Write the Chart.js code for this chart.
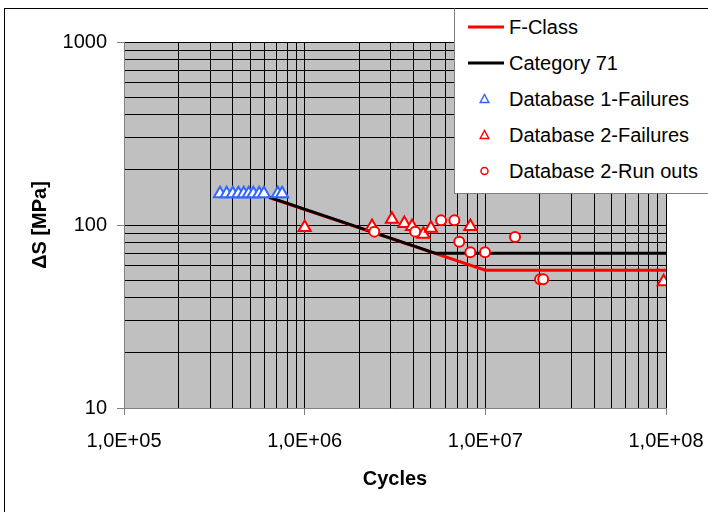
<!DOCTYPE html>
<html>
<head>
<meta charset="utf-8">
<title>S-N curve</title>
<script src="https://cdn.jsdelivr.net/npm/chart.js@4.4.1/dist/chart.umd.min.js"></script>
<style>
    body { margin: 0; background: #fff; overflow: hidden; }
    #wrap { position: relative; width: 708px; height: 512px; }
    #legend {
        position: absolute; left: 454px; top: 8px; width: 270px; height: 184px;
        background: #fff; border: 1px solid #808080; border-top-color: #000;
        font-family: 'Liberation Sans', Arial, sans-serif; font-size: 20px; color: #000;
    }
    .legend-item { height: 36px; display: flex; align-items: center; white-space: nowrap; }
    .legend-item svg { flex: none; }
</style>
</head>
<body>
<div id="wrap">
    <canvas id="snChart" width="708" height="512"></canvas>
    <div id="legend"></div>
</div>
<script>
// Axis decades and tick labels
const xDecades = [1e5, 1e6, 1e7, 1e8];
const xTickLabels = ['1,0E+05', '1,0E+06', '1,0E+07', '1,0E+08'];
const yDecades = [10, 100, 1000];
const yTickLabels = ['10', '100', '1000'];

// Design curves
const fClassCycles = [6.35e5, 1.0e7, 1.0e8];
const fClassStress = [141, 56.6, 56.6];
const cat71Cycles = [6.35e5, 5.3e6, 1.0e8];
const cat71Stress = [142, 70, 70];

// Test data
const db1Cycles = [3.40e5, 3.70e5, 4.00e5, 4.30e5, 4.60e5, 4.90e5, 5.20e5, 5.60e5, 5.95e5, 7.10e5, 7.50e5];
const db1Stress = [148, 148, 148, 148, 148, 148, 148, 148, 148, 148, 148];
const db2FailCycles = [1.0e6, 2.36e6, 3.04e6, 3.56e6, 3.93e6, 4.54e6, 5.0e6, 8.26e6, 9.7e7];
const db2FailStress = [97, 98, 107.5, 102, 98, 89, 96, 98, 49];
const db2RunCycles = [2.43e6, 4.09e6, 5.69e6, 6.74e6, 7.17e6, 8.26e6, 9.96e6, 1.46e7, 2.01e7, 2.09e7];
const db2RunStress = [92, 92, 106, 106, 81, 71, 71, 86, 50.5, 50.5];

function toPoints(xs, ys) {
    return xs.map((x, i) => ({ x: x, y: ys[i] }));
}

// 1..9 x each decade, plus the last decade
function logGrid(decades) {
    const values = [];
    for (let d = 0; d < decades.length - 1; d++) {
        for (let k = 1; k < 10; k++) values.push(k * decades[d]);
    }
    values.push(decades[decades.length - 1]);
    return values;
}

Chart.defaults.font.family = "'Liberation Sans', Arial, sans-serif";
Chart.defaults.font.size = 20;
Chart.defaults.color = '#000';

const plotBackground = {
    id: 'plotBackground',
    beforeDraw(chart) {
        const { ctx, chartArea: a } = chart;
        ctx.save();
        ctx.fillStyle = '#fff';
        ctx.fillRect(0, 0, chart.width, chart.height);
        ctx.strokeStyle = '#000';
        ctx.lineWidth = 1;
        ctx.strokeRect(4.5, 8.5, chart.width, chart.height);
        ctx.fillStyle = '#c0c0c0';
        ctx.fillRect(a.left, a.top, a.right - a.left, a.bottom - a.top);
        ctx.restore();
    }
};

const ctx = document.getElementById('snChart').getContext('2d');
const snChart = new Chart(ctx, {
    type: 'scatter',
    data: {
        datasets: [
            {
                label: 'F-Class',
                data: toPoints(fClassCycles, fClassStress),
                showLine: true,
                borderColor: '#ff0000',
                borderWidth: 3,
                pointRadius: 0,
                order: 3
            },
            {
                label: 'Category 71',
                data: toPoints(cat71Cycles, cat71Stress),
                showLine: true,
                borderColor: '#000000',
                borderWidth: 3,
                pointRadius: 0,
                order: 2
            },
            {
                label: 'Database 1-Failures',
                data: toPoints(db1Cycles, db1Stress),
                pointStyle: 'triangle',
                pointRadius: 7,
                borderWidth: 2,
                borderColor: '#3366ff',
                backgroundColor: '#ffffff',
                order: 1
            },
            {
                label: 'Database 2-Failures',
                data: toPoints(db2FailCycles, db2FailStress),
                pointStyle: 'triangle',
                pointRadius: 7,
                borderWidth: 2,
                borderColor: '#ff0000',
                backgroundColor: '#ffffff',
                order: 1
            },
            {
                label: 'Database 2-Run outs',
                data: toPoints(db2RunCycles, db2RunStress),
                pointStyle: 'circle',
                pointRadius: 5,
                borderWidth: 2,
                borderColor: '#ff0000',
                backgroundColor: '#ffffff',
                order: 0
            }
        ]
    },
    options: {
        responsive: false,
        animation: false,
        layout: { padding: { left: 0, top: 42, right: 42, bottom: 0 } },
        plugins: {
            legend: { display: false },
            tooltip: { enabled: false }
        },
        scales: {
            x: {
                type: 'logarithmic',
                min: xDecades[0],
                max: xDecades[xDecades.length - 1],
                afterBuildTicks: (scale) => {
                    scale.ticks = logGrid(xDecades).map(v => ({ value: v }));
                },
                afterFit: (scale) => {
                    scale.height = 104;
                    scale.paddingLeft = 0;
                    scale.paddingRight = 0;
                },
                ticks: {
                    autoSkip: false,
                    maxRotation: 0,
                    padding: 14,
                    callback: (value) => {
                        const i = xDecades.indexOf(value);
                        return i >= 0 ? xTickLabels[i] : '';
                    }
                },
                grid: {
                    color: '#000',
                    lineWidth: 1,
                    tickLength: 7,
                    tickColor: (c) => (c.tick && xDecades.includes(c.tick.value)) ? '#808080' : 'rgba(0,0,0,0)'
                },
                border: { color: '#808080', width: 1 },
                title: {
                    display: true,
                    text: 'Cycles',
                    font: { weight: 'bold', size: 20 },
                    padding: { top: 0, bottom: 21 }
                }
            },
            y: {
                type: 'logarithmic',
                min: yDecades[0],
                max: yDecades[yDecades.length - 1],
                afterBuildTicks: (scale) => {
                    scale.ticks = logGrid(yDecades).map(v => ({ value: v }));
                },
                afterFit: (scale) => {
                    scale.width = 124;
                    scale.paddingTop = 0;
                    scale.paddingBottom = 0;
                },
                ticks: {
                    autoSkip: false,
                    padding: 10,
                    callback: (value) => {
                        const i = yDecades.indexOf(value);
                        return i >= 0 ? yTickLabels[i] : '';
                    }
                },
                grid: {
                    color: '#000',
                    lineWidth: 1,
                    tickLength: 7,
                    tickColor: (c) => (c.tick && yDecades.includes(c.tick.value)) ? '#808080' : 'rgba(0,0,0,0)'
                },
                border: { color: '#808080', width: 1 },
                title: {
                    display: true,
                    text: 'ΔS [MPa]',
                    font: { weight: 'bold', size: 20 },
                    padding: { top: 28, bottom: 0 }
                }
            }
        }
    },
    plugins: [plotBackground]
});

// HTML legend built from the datasets
function buildLegend(chart) {
    const box = document.getElementById('legend');
    const ns = 'http://www.w3.org/2000/svg';
    chart.data.datasets.forEach(ds => {
        const row = document.createElement('div');
        row.className = 'legend-item';
        const svg = document.createElementNS(ns, 'svg');
        svg.setAttribute('width', '54');
        svg.setAttribute('height', '36');
        let shape;
        if (ds.showLine) {
            shape = document.createElementNS(ns, 'line');
            shape.setAttribute('x1', '13');
            shape.setAttribute('x2', '49');
            shape.setAttribute('y1', '18');
            shape.setAttribute('y2', '18');
            shape.setAttribute('stroke', ds.borderColor);
            shape.setAttribute('stroke-width', '3');
        } else if (ds.pointStyle === 'triangle') {
            shape = document.createElementNS(ns, 'polygon');
            shape.setAttribute('points', '29.5,13.5 33.8,21.5 25.2,21.5');
            shape.setAttribute('fill', '#fff');
            shape.setAttribute('stroke', ds.borderColor);
            shape.setAttribute('stroke-width', '1.5');
        } else {
            shape = document.createElementNS(ns, 'circle');
            shape.setAttribute('cx', '29.5');
            shape.setAttribute('cy', '18');
            shape.setAttribute('r', '3.5');
            shape.setAttribute('fill', '#fff');
            shape.setAttribute('stroke', ds.borderColor);
            shape.setAttribute('stroke-width', '1.5');
        }
        svg.appendChild(shape);
        row.appendChild(svg);
        const label = document.createElement('span');
        label.textContent = ds.label;
        row.appendChild(label);
        box.appendChild(row);
    });
}
buildLegend(snChart);
</script>
</body>
</html>
